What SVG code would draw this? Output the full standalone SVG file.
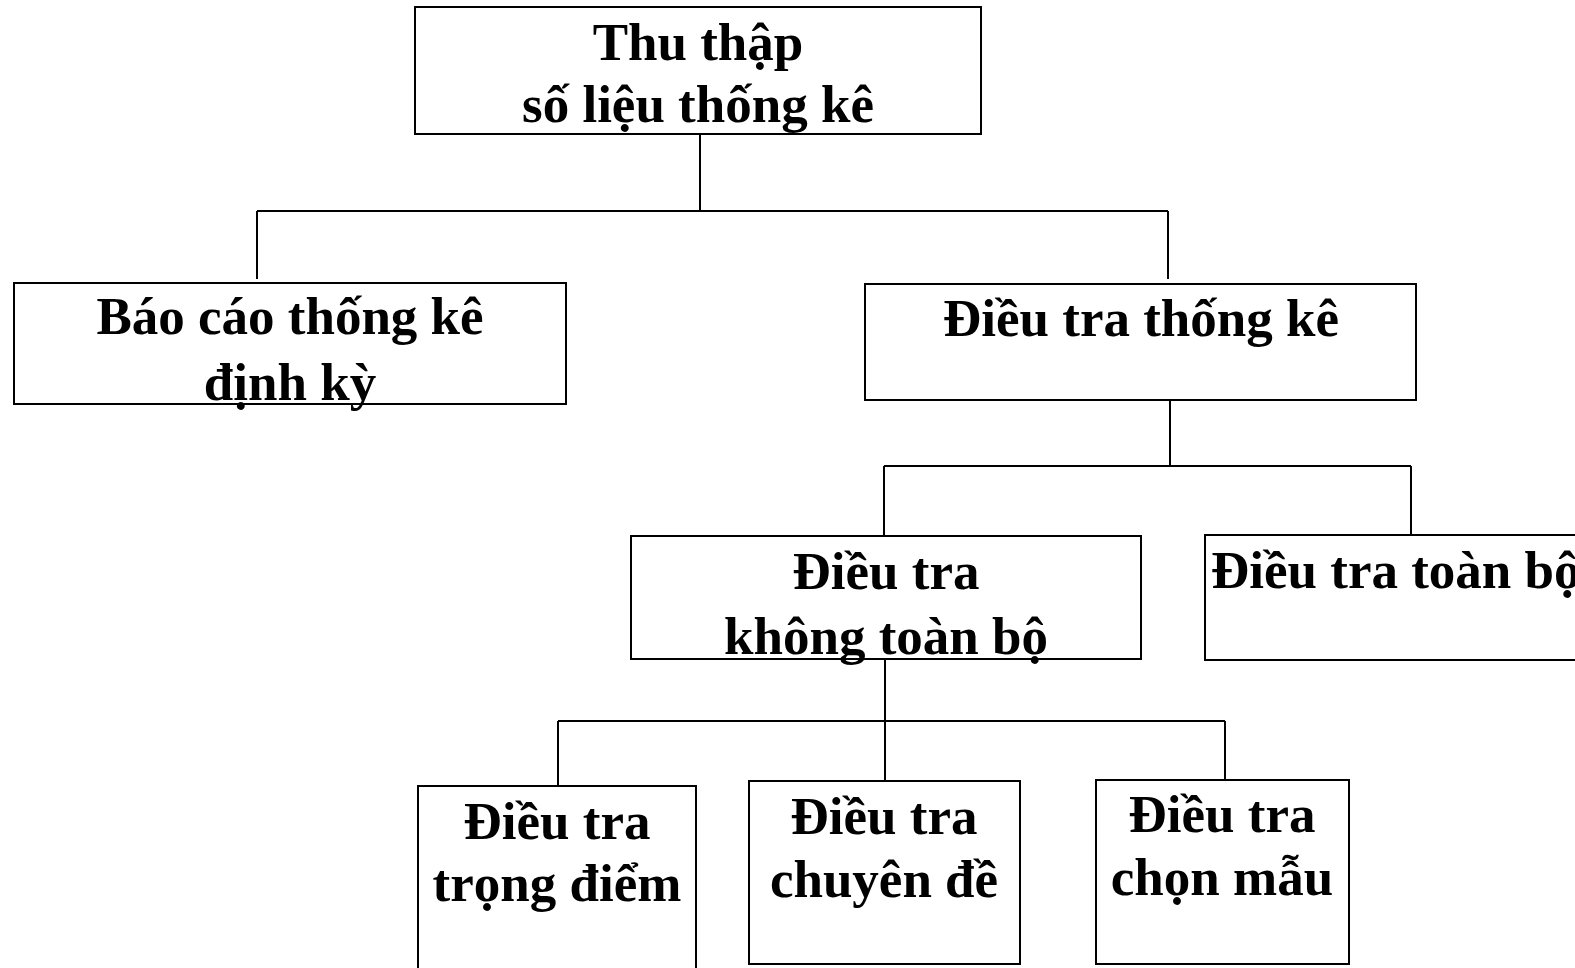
<svg xmlns="http://www.w3.org/2000/svg" width="1575" height="968" viewBox="0 0 1575 968">
<style>
.box{fill:#fff;stroke:#000;stroke-width:2}
.t{font-family:"Liberation Serif","Times New Roman",serif;font-weight:bold;font-size:53px;fill:#000;text-anchor:middle}
.l{text-anchor:start}
.c{stroke:#000;stroke-width:2;fill:none}
</style>
<rect width="1575" height="968" fill="#fff"/>
<g id="connectors">
<path class="c" d="M700 134V211M257 211H1168M257 211V279M1168 211V279"/>
<path class="c" d="M1170 400V466M884 466H1411M884 466V535M1411 466V535"/>
<path class="c" d="M885 659V721M558 721H1225M558 721V786M885 721V781M1225 721V780"/>
</g>
<g id="n-root"><rect class="box" x="415" y="7" width="566" height="127"/>
<text class="t" x="698" y="60">Thu thập</text><text class="t" x="698" y="122">số liệu thống kê</text></g>
<g id="n-baocao"><rect class="box" x="14" y="283" width="552" height="121"/>
<text class="t" x="290" y="334">Báo cáo thống kê</text><text class="t" x="290" y="400">định kỳ</text></g>
<g id="n-dieutra"><rect class="box" x="865" y="284" width="551" height="116"/>
<text class="t" x="1141" y="336">Điều tra thống kê</text></g>
<g id="n-khongtoanbo"><rect class="box" x="631" y="536" width="510" height="123"/>
<text class="t" x="886" y="589">Điều tra</text><text class="t" x="886" y="654">không toàn bộ</text></g>
<g id="n-toanbo"><rect class="box" x="1205" y="535" width="380" height="125"/>
<text class="t l" x="1211" y="588">Điều tra toàn bộ</text></g>
<g id="n-trongdiem"><rect class="box" x="418" y="786" width="278" height="200"/>
<text class="t" x="557" y="839">Điều tra</text><text class="t" x="557" y="901">trọng điểm</text></g>
<g id="n-chuyende"><rect class="box" x="749" y="781" width="271" height="183"/>
<text class="t" x="884" y="834">Điều tra</text><text class="t" x="884" y="897">chuyên đề</text></g>
<g id="n-chonmau"><rect class="box" x="1096" y="780" width="253" height="184"/>
<text class="t" x="1222" y="832">Điều tra</text><text class="t" x="1222" y="895">chọn mẫu</text></g>
</svg>
